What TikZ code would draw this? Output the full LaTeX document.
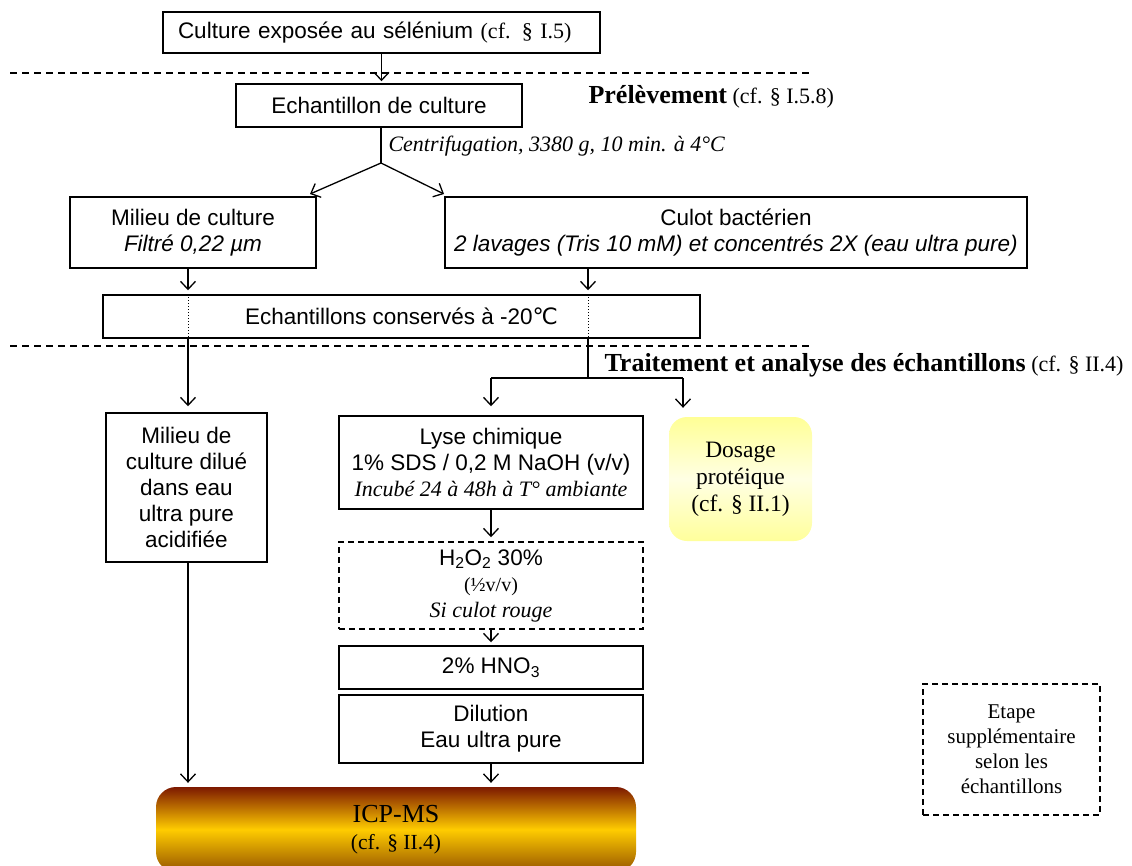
\documentclass[tikz,border=0pt]{standalone}
\usepackage{fontspec}
\setmainfont{Liberation Sans}
\newfontfamily\tmsfont{Liberation Serif}
\newfontfamily\degfont{DejaVu Sans}
\usetikzlibrary{arrows.meta}

\newcommand{\sanstxt}{\fontsize{22.5}{26}\selectfont}
\newcommand{\romtxt}{\tmsfont\fontsize{22}{26}\selectfont}

\definecolor{icptop}{RGB}{125,25,0}
\definecolor{icpmid}{RGB}{255,204,0}
\definecolor{icpbot}{RGB}{150,85,0}
\definecolor{dostop}{RGB}{255,255,150}
\definecolor{dosmid}{RGB}{255,255,228}
\definecolor{dosbot}{RGB}{255,255,155}

\tikzset{
  procbox/.style={draw, line width=1.5pt, align=center, inner sep=0pt, font=\sanstxt},
  optbox/.style={procbox, dash pattern=on 6pt off 4pt},
  arr/.style={-{Straight Barb[length=8pt,width=15pt]}, line width=1.3pt, shorten >=4pt},
  divider/.style={line width=1.3pt, dash pattern=on 7pt off 5pt},
}

\begin{document}
\begin{tikzpicture}[x=1pt,y=-1pt]
    \useasboundingbox (0,0) rectangle (1132,865);

    % colonnes des fleches
    \coordinate (colL) at (188,0);
    \coordinate (colR) at (588,0);

    % prelevement
    \node[procbox, minimum width=437pt, minimum height=41pt, text width=407pt, align=left] (culture) at (381.5,32.5)
        {Culture exposée au sélénium {\romtxt (cf. § I.5)}};
    \draw[divider] (10,73) -- (812,73);
    \node[procbox, minimum width=286pt, minimum height=43pt] (echant) at (379,105.5) {Echantillon de culture};
    \node[anchor=west, font=\romtxt] (prelev) at (585,97)
        {{\bfseries\fontsize{26}{30}\selectfont Prélèvement} (cf. § I.5.8)};
    \node[anchor=west, font=\romtxt\itshape] (centri) at (385,146) {Centrifugation, 3380 g, 10 min. à 4°C};

    \node[procbox, minimum width=246pt, minimum height=71pt] (milieu) at (193,232.5)
        {Milieu de culture\\{\itshape Filtré 0,22 µm}};
    \node[procbox, minimum width=582pt, minimum height=71pt] (culot) at (736,232.5)
        {Culot bactérien\\{\itshape 2 lavages (Tris 10 mM) et concentrés 2X (eau ultra pure)}};
    \node[procbox, minimum width=597pt, minimum height=43pt] (conserve) at (401.5,316.5)
        {Echantillons conservés à -20{\degfont ℃}};
    \draw[line width=1pt, dotted] (conserve.north -| colL) -- (conserve.south -| colL);
    \draw[line width=1pt, dotted] (conserve.north -| colR) -- (conserve.south -| colR);

    % traitement
    \draw[divider] (10,346) -- (812,346);
    \node[anchor=west, font=\romtxt] (traite) at (601,365)
        {{\bfseries\fontsize{26}{30}\selectfont Traitement et analyse des échantillons} (cf. § II.4)};

    \node[procbox, minimum width=161pt, minimum height=149pt] (dilue) at (186.5,487.5)
        {Milieu de\\culture dilué\\dans eau\\ultra pure\\acidifiée};
    \node[procbox, minimum width=304pt, minimum height=93pt] (lyse) at (491,462.5)
        {Lyse chimique\\1\% SDS / 0,2 M NaOH (v/v)\\{\romtxt\itshape Incubé 24 à 48h à T° ambiante}};
    \node[rounded corners=18pt, top color=dostop, bottom color=dosbot, middle color=dosmid,
          minimum width=143pt, minimum height=124pt, align=center,
          font=\tmsfont\fontsize{23.5}{27}\selectfont] (dosage) at (740.5,479)
        {Dosage\\protéique\\(cf. § II.1)};
    \node[optbox, minimum width=304pt, minimum height=87pt] (peroxy) at (491,585.5)
        {H\textsubscript{2}O\textsubscript{2} 30\%\\{\tmsfont\fontsize{20}{24}\selectfont (½v/v)}\\{\romtxt\itshape Si culot rouge}};
    \node[procbox, minimum width=304pt, minimum height=43pt] (nitric) at (491,667.5) {2\% HNO\textsubscript{3}};
    \node[procbox, minimum width=304pt, minimum height=68pt] (dilution) at (491,729) {Dilution\\Eau ultra pure};
    \node[rounded corners=20pt, top color=icptop, bottom color=icpbot, middle color=icpmid,
          minimum width=480pt, minimum height=85pt, align=center,
          font=\tmsfont\fontsize{21.5}{27}\selectfont] (icp) at (396,829.5)
        {{\fontsize{26}{30}\selectfont ICP-MS}\\(cf. § II.4)};

    % legende
    \node[optbox, minimum width=177pt, minimum height=131pt, font=\tmsfont\fontsize{21}{25}\selectfont] (legende) at (1011.5,749.5)
        {Etape\\supplémentaire\\selon les\\échantillons};

    % fleches
    \coordinate (split) at (381,163);
    \coordinate (tipL) at (310,194);
    \coordinate (tipR) at (444,194);
    \coordinate (fork) at (588,378);
    \coordinate (forkR) at (683,378);

    \draw[arr, shorten >=2pt] (culture.south) -- (culture.south |- echant.north);
    \draw[line width=1.3pt] (echant.south -| split) -- (split);
    \draw[arr, shorten >=0pt] (split) -- (tipL);
    \draw[arr, shorten >=0pt] (split) -- (tipR);
    \draw[arr] (milieu.south -| colL) -- (conserve.north -| colL);
    \draw[arr] (culot.south -| colR) -- (conserve.north -| colR);
    \draw[arr, shorten >=6pt] (conserve.south -| colL) -- (dilue.north -| colL);
    \draw[line width=1.3pt] (conserve.south -| colR) -- (fork);
    \draw[line width=1.3pt] (fork -| lyse.north) -- (forkR);
    \draw[arr, shorten >=9pt] (fork -| lyse.north) -- (lyse.north);
    \draw[arr, shorten >=9pt] (forkR) -- (forkR |- dosage.north);
    \draw[arr] (lyse.south) -- (peroxy.north);
    \draw[arr, shorten >=3pt] (peroxy.south) -- (nitric.north);
    \draw[arr] (dilution.south) -- (dilution.south |- icp.north);
    \draw[arr] (dilue.south -| colL) -- (icp.north -| colL);

\end{tikzpicture}
\end{document}
